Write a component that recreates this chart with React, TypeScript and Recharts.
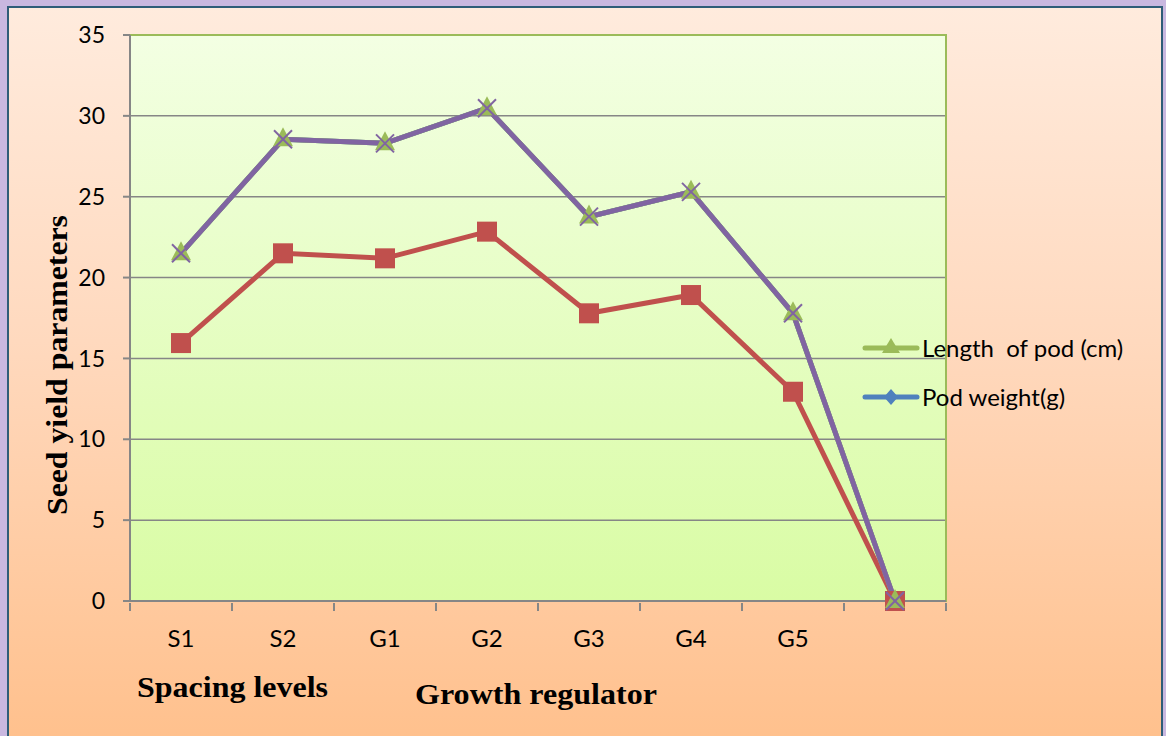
import { ComposedChart, Line, XAxis, YAxis, CartesianGrid, Legend, ReferenceArea } from "recharts";

const categories = ["S1", "S2", "G1", "G2", "G3", "G4", "G5", ""];
const lengthOfPod = [21.5, 28.55, 28.3, 30.47, 23.77, 25.3, 17.79, 0];
const podWeight = [21.5, 28.55, 28.3, 30.47, 23.77, 25.3, 17.79, 0];
const seriesThree = [21.5, 28.55, 28.3, 30.47, 23.77, 25.3, 17.79, 0];
const seriesFour = [15.95, 21.5, 21.19, 22.84, 17.79, 18.92, 12.94, 0];
const yTicks = [0, 5, 10, 15, 20, 25, 30, 35];

const data = categories.map((name, i) => ({
  name,
  length: lengthOfPod[i],
  weight: podWeight[i],
  s3: seriesThree[i],
  s4: seriesFour[i],
}));

const FONT = "Lato, 'Open Sans', sans-serif";
const SERIF = "'Liberation Serif', 'Times New Roman', serif";
const GRID = "#868686";

const Triangle = (p: any) => (
  <polygon
    key={p.key}
    points={`${p.cx},${p.cy - 12} ${p.cx + 10},${p.cy + 7} ${p.cx - 10},${p.cy + 7}`}
    fill="#9BBB59"
  />
);

const Cross = (p: any) => (
  <g key={p.key} stroke="#8064A2" strokeWidth={2}>
    <line x1={p.cx - 9} y1={p.cy - 9} x2={p.cx + 9} y2={p.cy + 9} />
    <line x1={p.cx - 9} y1={p.cy + 9} x2={p.cx + 9} y2={p.cy - 9} />
  </g>
);

const Square = (p: any) => (
  <rect key={p.key} x={p.cx - 10} y={p.cy - 10} width={20} height={20} fill="#C0504D" />
);

// tick marks sit on the band boundaries, labels in the band centres
const CatTick = (p: any) => {
  const half = p.payload.offset || 0;
  const top = p.y - 8;
  const isLast = p.index === categories.length - 1;
  return (
    <g>
      <line x1={p.x - half} y1={top} x2={p.x - half} y2={top + 8} stroke={GRID} strokeWidth={2} />
      {isLast && <line x1={p.x + half} y1={top} x2={p.x + half} y2={top + 8} stroke={GRID} strokeWidth={2} />}
      {p.payload.value && (
        <text x={p.x} y={p.y + 36} textAnchor="middle" fontSize={24} fontFamily={FONT} fill="#000">
          {p.payload.value}
        </text>
      )}
    </g>
  );
};

const renderLegend = (props: any) => {
  const items = (props.payload || []).filter((e: any) => e.type !== "none");
  return (
    <div style={{ fontFamily: FONT, fontSize: 24, color: "#000" }}>
      {items.map((e: any) => (
        <div key={e.value} style={{ display: "flex", alignItems: "center", height: 49 }}>
          <svg width={58} height={24}>
            <line x1={3} y1={12} x2={55} y2={12} stroke={e.color} strokeWidth={5} strokeLinecap="round" />
            {e.dataKey === "length" ? (
              <polygon points="29,2 38,17 20,17" fill={e.color} />
            ) : (
              <polygon points="29,4 36,12 29,20 22,12" fill={e.color} />
            )}
          </svg>
          <span style={{ whiteSpace: "pre", marginLeft: 2 }}>{e.value}</span>
        </div>
      ))}
    </div>
  );
};

const YTitle = (props: any) => {
  const vb = props.viewBox;
  const x = vb.x + 7;
  const y = vb.y + vb.height / 2 + 47;
  return (
    <text
      x={x}
      y={y}
      transform={`rotate(-90 ${x} ${y})`}
      textAnchor="middle"
      dominantBaseline="central"
      fontFamily={SERIF}
      fontWeight="bold"
      fontSize={29}
      textLength={300}
      lengthAdjust="spacingAndGlyphs"
      fill="#000"
    >
      Seed yield parameters
    </text>
  );
};

const XTitles = (props: any) => {
  const vb = props.viewBox;
  return (
    <g fontFamily={SERIF} fontWeight="bold" fontSize={29} fill="#000">
      <text x={137} y={vb.y + 96} textLength={191} lengthAdjust="spacingAndGlyphs">Spacing levels</text>
      <text x={415} y={vb.y + 103} textLength={242} lengthAdjust="spacingAndGlyphs">Growth regulator</text>
    </g>
  );
};

export default function App() {
  return (
    <div style={{ position: "absolute", left: 0, top: 0, width: 1166, height: 736, overflow: "hidden", background: "#C9B8E0" }}>
      <div
        style={{
          position: "absolute",
          left: 7,
          top: 6,
          width: 1152,
          height: 740,
          border: "2px solid #2F5D78",
          background: "linear-gradient(to bottom, #FFEBDD 0%, #FFD9BE 45%, #FFC08C 100%)",
        }}
      />
      <div style={{ position: "absolute", left: 0, top: 0 }}>
        <ComposedChart width={1166} height={736} data={data} margin={{ top: 35, right: 220, left: 50, bottom: 75 }}>
          <defs>
            <linearGradient id="plotBg" x1="0" y1="0" x2="0" y2="1">
              <stop offset="0%" stopColor="#F3FFE3" />
              <stop offset="100%" stopColor="#D9FCA4" />
            </linearGradient>
          </defs>
          <CartesianGrid vertical={false} stroke={GRID} strokeWidth={1.5} fill="url(#plotBg)" fillOpacity={1} />
          <ReferenceArea xAxisId="cat" y1={0} y2={35} fill="none" stroke="#9BBB59" strokeWidth={2} />
          <XAxis
            xAxisId="cat"
            dataKey="name"
            scale="band"
            height={60}
            stroke={GRID}
            strokeWidth={2}
            tickLine={false}
            tickSize={8}
            tick={<CatTick />}
            interval={0}
            label={<XTitles />}
          />
          <YAxis
            domain={[0, 35]}
            ticks={yTicks}
            width={80}
            tickSize={7}
            tickMargin={18}
            stroke={GRID}
            strokeWidth={2}
            tick={{ fill: "#000", fontSize: 23, fontFamily: FONT }}
            label={<YTitle />}
          />
          <Line
            xAxisId="cat"
            dataKey="weight"
            name="Pod weight(g)"
            stroke="#4F81BD"
            strokeWidth={5}
            dot={false}
            isAnimationActive={false}
          />
          <Line
            xAxisId="cat"
            dataKey="s4"
            name="Series 4"
            legendType="none"
            stroke="#C0504D"
            strokeWidth={5}
            dot={Square}
            isAnimationActive={false}
          />
          <Line
            xAxisId="cat"
            dataKey="length"
            name="Length  of pod (cm)"
            stroke="#9BBB59"
            strokeWidth={5}
            dot={Triangle}
            isAnimationActive={false}
          />
          <Line
            xAxisId="cat"
            dataKey="s3"
            name="Series 3"
            legendType="none"
            stroke="#8064A2"
            strokeWidth={5}
            dot={Cross}
            isAnimationActive={false}
          />
          <Legend
            layout="vertical"
            verticalAlign="middle"
            align="center"
            content={renderLegend}
            wrapperStyle={{ left: 862, top: 323, width: 300 }}
          />
        </ComposedChart>
      </div>
    </div>
  );
}
